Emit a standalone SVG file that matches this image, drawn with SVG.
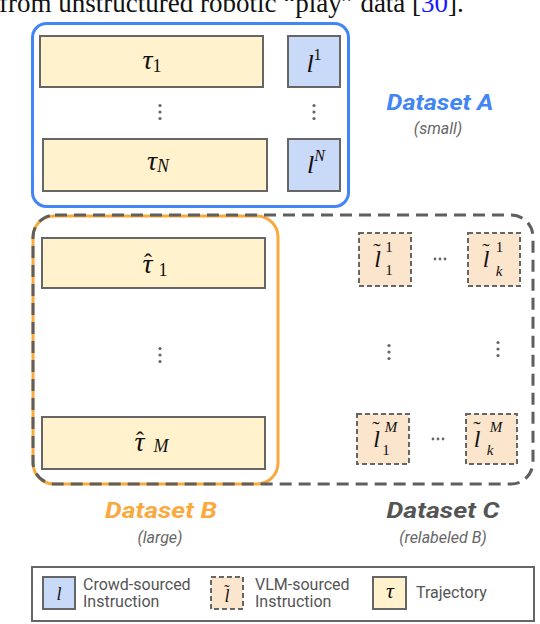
<svg xmlns="http://www.w3.org/2000/svg" width="540" height="624" viewBox="0 0 540 624">
<style>
.traj{fill:#fff2cc;stroke:#666;stroke-width:2}
.crowd{fill:#c9daf8;stroke:#666;stroke-width:2}
.vlm{fill:#fce5cd;stroke:#666;stroke-width:2;stroke-dasharray:5 3}
.m{font-family:"Liberation Serif",serif;font-style:italic;fill:#111}
.d{font-family:"Liberation Serif",serif;font-style:normal;fill:#111}
.dot{fill:#666}
.title{font-family:Roboto,"Open Sans",sans-serif;font-weight:700;font-style:italic;font-size:22px}
.sub{font-family:Roboto,"Open Sans",sans-serif;font-style:italic;font-size:16px;fill:#666}
.leg{font-family:Roboto,"Open Sans",sans-serif;font-size:16px;fill:#555}
</style>
<defs>
<g id="vdots"><circle class="dot" cx="0" cy="-6.5" r="1.6"/><circle class="dot" cx="0" cy="0" r="1.6"/><circle class="dot" cx="0" cy="6.5" r="1.6"/></g>
<g id="hdots"><circle class="dot" cx="-5" cy="0" r="1.4"/><circle class="dot" cx="0" cy="0" r="1.4"/><circle class="dot" cx="5" cy="0" r="1.4"/></g>
</defs>
<rect width="540" height="624" fill="#fff"/>
<text x="-1" y="12" font-family="Liberation Serif,serif" font-size="27" fill="#111">from unstructured robotic “play” data [<tspan fill="#1a1aff">30</tspan>].</text>

<g id="datasetB-frame">
<rect x="33" y="216" width="245" height="268" rx="21" fill="none" stroke="#f9a93d" stroke-width="3"/>
</g>
<g id="datasetC-frame">
<rect x="33" y="215" width="500" height="269" rx="22" fill="none" stroke="#5f5f5f" stroke-width="3" stroke-dasharray="12 7"/>
</g>
<g id="datasetA-frame">
<rect x="32.5" y="23.5" width="316" height="183" rx="14" fill="none" stroke="#4285f4" stroke-width="3"/>
</g>

<g id="tau1">
<rect class="traj" x="40" y="36" width="223" height="51"/>
<text x="152" y="69" text-anchor="middle" font-size="28"><tspan class="m">τ</tspan><tspan class="d" font-size="18" dy="3">1</tspan></text>
</g>
<g id="l1">
<rect class="crowd" x="288" y="36" width="52" height="51"/>
<text x="314" y="72" text-anchor="middle" font-size="26"><tspan class="m">l</tspan><tspan class="d" font-size="16" dy="-12">1</tspan></text>
</g>
<g id="dotsA">
<use href="#vdots" x="160" y="112"/>
<use href="#vdots" x="314" y="112"/>
</g>
<g id="tauN">
<rect class="traj" x="43" y="139" width="224" height="52"/>
<text x="158" y="170" text-anchor="middle" font-size="28"><tspan class="m">τ</tspan><tspan class="m" font-size="18" dy="2">N</tspan></text>
</g>
<g id="lN">
<rect class="crowd" x="288" y="139" width="52" height="52"/>
<text x="316" y="173" text-anchor="middle" font-size="26"><tspan class="m">l</tspan><tspan class="m" font-size="16" dy="-12">N</tspan></text>
</g>
<g id="labelA">
<text class="title" x="440" y="110" text-anchor="middle" fill="#4285f4" textLength="107" lengthAdjust="spacingAndGlyphs">Dataset A</text>
<text class="sub" x="438" y="134" text-anchor="middle">(small)</text>
</g>

<g id="tauhat1">
<rect class="traj" x="42" y="238" width="223" height="50"/>
<text class="m" x="147.5" y="273" text-anchor="middle" font-size="28">τ</text>
<text class="d" x="148" y="270" text-anchor="middle" font-size="24">ˆ</text>
<text class="d" x="163" y="276" text-anchor="middle" font-size="18">1</text>
</g>
<g id="dotsB">
<use href="#vdots" x="160" y="355"/>
</g>
<g id="tauhatM">
<rect class="traj" x="42" y="417" width="223" height="52"/>
<text class="m" x="139.5" y="451" text-anchor="middle" font-size="28">τ</text>
<text class="d" x="140" y="448" text-anchor="middle" font-size="24">ˆ</text>
<text class="m" x="161" y="452" text-anchor="middle" font-size="18">M</text>
</g>

<g id="lt11">
<rect class="vlm" x="359" y="233" width="52" height="53"/>
<text class="m" x="377.5" y="267" text-anchor="middle" font-size="24">l</text>
<text class="d" x="377" y="258" text-anchor="middle" font-size="22">˜</text>
<text class="d" x="389" y="252" text-anchor="middle" font-size="15">1</text>
<text class="d" x="389" y="275" text-anchor="middle" font-size="15">1</text>
</g>
<g id="lt1k">
<rect class="vlm" x="468" y="233" width="52" height="53"/>
<text class="m" x="486" y="267" text-anchor="middle" font-size="24">l</text>
<text class="d" x="486" y="258" text-anchor="middle" font-size="22">˜</text>
<text class="d" x="499.5" y="252" text-anchor="middle" font-size="15">1</text>
<text class="m" x="499" y="276" text-anchor="middle" font-size="15">k</text>
</g>
<g id="dotsC">
<use href="#hdots" x="440" y="259"/>
<use href="#vdots" x="389" y="352"/>
<use href="#vdots" x="498" y="349"/>
<use href="#hdots" x="438" y="439"/>
</g>
<g id="ltM1">
<rect class="vlm" x="357" y="414" width="52" height="50"/>
<text class="m" x="376.5" y="447" text-anchor="middle" font-size="24">l</text>
<text class="d" x="376" y="436" text-anchor="middle" font-size="22">˜</text>
<text class="m" x="391" y="432" text-anchor="middle" font-size="15">M</text>
<text class="d" x="386" y="455" text-anchor="middle" font-size="15">1</text>
</g>
<g id="ltMk">
<rect class="vlm" x="466" y="414" width="51" height="50"/>
<text class="m" x="477" y="447" text-anchor="middle" font-size="24">l</text>
<text class="d" x="477" y="436" text-anchor="middle" font-size="22">˜</text>
<text class="m" x="496" y="432" text-anchor="middle" font-size="15">M</text>
<text class="m" x="490" y="455" text-anchor="middle" font-size="15">k</text>
</g>

<g id="labelB">
<text class="title" x="161" y="518" text-anchor="middle" fill="#f9a93d" textLength="112" lengthAdjust="spacingAndGlyphs">Dataset B</text>
<text class="sub" x="160" y="543" text-anchor="middle">(large)</text>
</g>
<g id="labelC">
<text class="title" x="443" y="518" text-anchor="middle" fill="#555" textLength="113" lengthAdjust="spacingAndGlyphs">Dataset C</text>
<text class="sub" x="443" y="543" text-anchor="middle">(relabeled B)</text>
</g>

<g id="legend">
<rect x="32" y="567" width="502" height="54" fill="none" stroke="#666" stroke-width="2"/>
<rect class="crowd" x="43" y="577" width="32" height="32"/>
<text class="m" x="59" y="600" text-anchor="middle" font-size="18">l</text>
<text class="leg" x="83" y="590">Crowd-sourced</text>
<text class="leg" x="83" y="607">Instruction</text>
<rect class="vlm" x="211" y="577" width="32" height="32"/>
<text class="m" x="227" y="602" text-anchor="middle" font-size="18">l</text>
<text class="d" x="227" y="596" text-anchor="middle" font-size="16">˜</text>
<text class="leg" x="255" y="590">VLM-sourced</text>
<text class="leg" x="255" y="607">Instruction</text>
<rect class="traj" x="373" y="577" width="33" height="32"/>
<text class="m" x="390" y="598" text-anchor="middle" font-size="22">τ</text>
<text class="leg" x="416" y="598">Trajectory</text>
</g>
<g id="connectors"/>
</svg>
